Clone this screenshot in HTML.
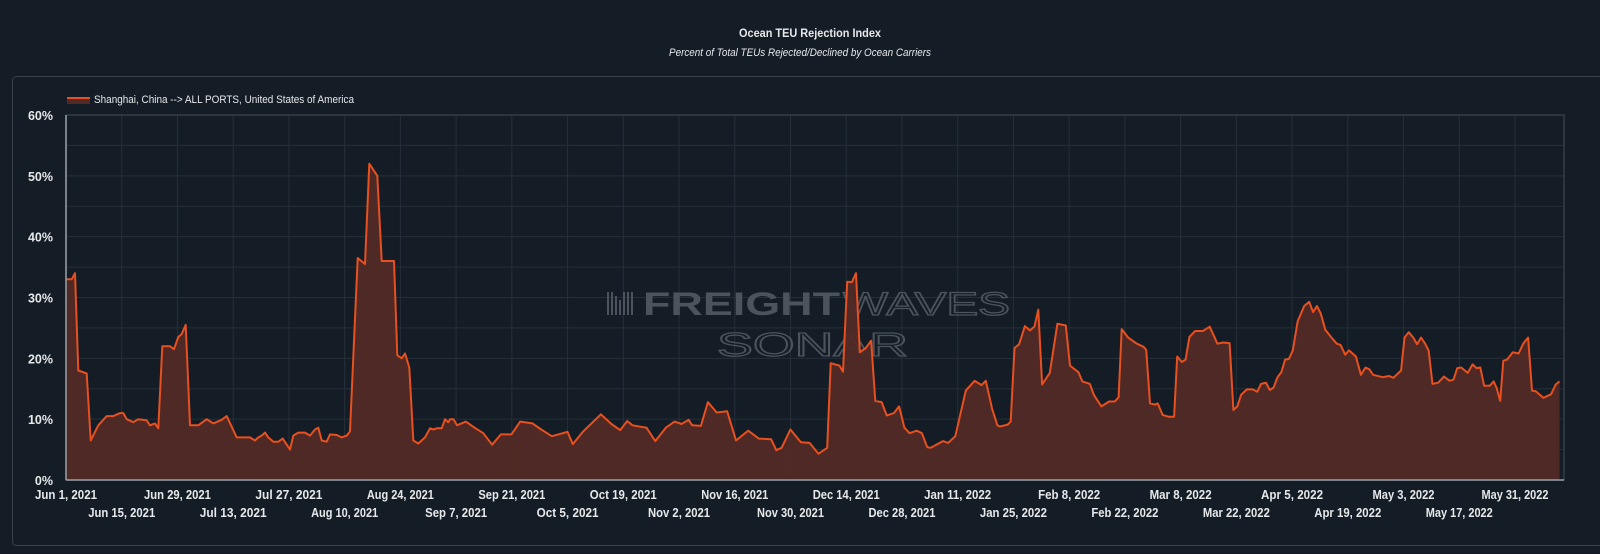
<!DOCTYPE html>
<html><head><meta charset="utf-8"><style>
html,body{margin:0;padding:0;background:#141d26;width:1600px;height:554px;overflow:hidden}
svg{display:block}
text{font-family:"Liberation Sans",sans-serif}
</style></head><body>
<svg id="s" width="1600" height="554" xmlns="http://www.w3.org/2000/svg">
<rect width="1600" height="554" fill="#141d26"/>
<rect x="12.5" y="76.5" width="1620" height="469" rx="4" fill="none" stroke="#3a424b" stroke-width="1"/>
<text x="810" y="37" fill="#e6e8ea" font-size="12" font-weight="bold" text-anchor="middle" textLength="142" lengthAdjust="spacingAndGlyphs">Ocean TEU Rejection Index</text>
<text x="800" y="56" fill="#e6e8ea" font-size="11" font-style="italic" text-anchor="middle" textLength="262" lengthAdjust="spacingAndGlyphs">Percent of Total TEUs Rejected/Declined by Ocean Carriers</text>
<rect x="67" y="97" width="23" height="7" fill="#512a25"/>
<rect x="67" y="97" width="23" height="2" fill="#e8501f"/>
<text x="94" y="103" fill="#e6e8ea" font-size="11" textLength="260" lengthAdjust="spacingAndGlyphs">Shanghai, China --&gt; ALL PORTS, United States of America</text>
<g id="grid"></g>
<g id="wm" fill="#4b535c">
<g fill="#4b535c"><rect x="607" y="292" width="2" height="23"/><rect x="611" y="292" width="2" height="23"/><rect x="615" y="296" width="2" height="19"/><rect x="619" y="300" width="2" height="15"/><rect x="623" y="292" width="2" height="23"/><rect x="627" y="292" width="2" height="23"/><rect x="631" y="292" width="2" height="23"/></g>
<text x="643" y="315" font-size="32" font-weight="bold" textLength="197" lengthAdjust="spacingAndGlyphs">FREIGHT</text>
<text x="843" y="315" font-size="32" fill="none" stroke="#4b535c" stroke-width="1.3" textLength="167" lengthAdjust="spacingAndGlyphs">WAVES</text>
<text x="717" y="356" font-size="33" fill="none" stroke="#4b535c" stroke-width="1.3" textLength="191" lengthAdjust="spacingAndGlyphs">SONAR</text>
</g>
<g id="data"></g>
<g id="labels"></g>
</svg>
<script>
var NS="http://www.w3.org/2000/svg";
function el(t,a,p,txt){var e=document.createElementNS(NS,t);for(var k in a)e.setAttribute(k,a[k]);if(txt!==undefined)e.textContent=txt;document.getElementById(p).appendChild(e);return e;}
var X0=66,X1=1564,Y0=480,Y1=115,sp=55.73;
function Y(v){return Y0-v*(Y0-Y1)/60;}
// horizontal grid
for(var v=5;v<60;v+=5)el("line",{x1:X0,x2:X1,y1:Y(v),y2:Y(v),stroke:"#262f39","stroke-width":1},"grid");
var labs=["Jun 1, 2021","Jun 15, 2021","Jun 29, 2021","Jul 13, 2021","Jul 27, 2021","Aug 10, 2021","Aug 24, 2021","Sep 7, 2021","Sep 21, 2021","Oct 5, 2021","Oct 19, 2021","Nov 2, 2021","Nov 16, 2021","Nov 30, 2021","Dec 14, 2021","Dec 28, 2021","Jan 11, 2022","Jan 25, 2022","Feb 8, 2022","Feb 22, 2022","Mar 8, 2022","Mar 22, 2022","Apr 5, 2022","Apr 19, 2022","May 3, 2022","May 17, 2022","May 31, 2022"];
for(var i=0;i<labs.length;i++){var x=X0+i*sp;if(i>0)el("line",{x1:x,x2:x,y1:Y1,y2:Y0,stroke:"#262f39","stroke-width":1},"grid");
el("text",{x:x,y:(i%2==0)?499:517,fill:"#e6e8ea","font-size":"12.5","font-weight":"bold","text-anchor":"middle",textLength:(labs[i].length*5.6).toFixed(0),lengthAdjust:"spacingAndGlyphs"},"labels",labs[i]);}
for(var v=0;v<=60;v+=10)el("text",{x:53,y:Y(v)+5,fill:"#e6e8ea","font-size":"12.5","font-weight":"bold","text-anchor":"end"},"labels",v+"%");
el("rect",{x:X0,y:Y1,width:X1-X0,height:Y0-Y1,fill:"none",stroke:"#3c444d","stroke-width":1.2},"grid");
var z1=[200,33,215,33,225,34,235,18,260,17.5,272,6.5,295,9,320,10.5,340,10.5,360,11,370,11,380,10,400,9.5,415,10,440,9.8,450,9,465,9.3,475,8.5,487,22,510,22,522,21.5,535,23.5,545,24,557,25.5,570,9,595,9,620,10,640,9.3,665,9.9,680,10.5,710,7,750,7,765,6.5,775,7,785,7.3,795,7.8,805,7,820,6.3,835,6.3,848,6.8,870,5,880,7.3,895,7.8,915,7.8,930,7.3,945,8.3,955,8.6,965,6.5,980,6.3,990,7.5,1010,7.4,1025,7,1040,7.3,1050,8,1073,36.5,1095,35.5,1108,52,1120,51,1132,50,1145,36,1182,36,1192,20.5,1205,20,1215,20.8,1228,18.5,1240,6.5,1255,6,1275,7,1290,8.5,1300,8.3,1310,8.5,1325,8.5,1335,10,1345,9.5];
var z2=[0,10,10,10,20,9,45,9.6,70,8.6,95,7.7,120,5.8,145,7.5,175,7.5,200,9.6,235,9.3,260,8.3,290,7.2,315,7.6,335,7.9,350,5.9,380,8,430,10.8,460,9.2,485,8.2,505,9.7,520,9,560,8.6,585,6.4,615,8.6,640,9.6,660,9.2,680,9.9,690,9,715,8.9,735,12.8,760,11.1,790,11.3,815,6.5,850,8.1,880,6.8,915,6.7,930,4.9,945,5.3,970,8.3,1000,6.2,1025,6.1,1050,4.3,1075,5.3,1085,19.2,1110,18.8,1120,17.8,1132,32.6,1145,32.5,1157,34,1168,21,1185,21.7,1200,22.9,1212,13,1230,12.8,1245,10.6,1265,11,1280,12.1,1295,8.6,1310,7.7,1330,8.1,1345,7.7,1360,5.4,1370,5.3,1405,6.4,1420,6.1,1440,7.2,1470,14.7,1495,16.3,1515,15.6,1527,16.3,1545,11.7,1560,9];
var z3=[0,8.8,20,9.1,28,9.6,38,21.7,50,22.3,65,25.3,78,24.6,90,25.2,100,28,110,15.7,130,17.6,150,25.7,172,25.4,183,18.8,205,17.7,215,16.2,235,15.8,245,14,265,12.1,285,12.9,300,12.9,310,13.6,318,24.8,335,23.4,355,22.5,375,21.9,382,21.4,392,12.6,405,12.4,412,12.6,425,10.7,440,10.4,455,10.4,463,20.3,475,19.4,485,19.8,495,23.5,510,24.5,530,24.5,548,25.2,568,22.4,583,22.6,600,22.5,610,11.5,620,12.1,630,14,645,14.9,660,14.9,672,14.5,682,15.8,695,16,705,14.8,715,15.2,725,16.9,735,17.7,745,19.8,755,19.9,765,21.3,778,26.1,795,28.6,808,29.3,818,27.6,828,28.6,838,27.4,850,24.7,865,23.5,880,22.4,890,22.2,902,20.6,912,21.3,930,20.3,943,17.3,955,18.5,965,18.2,975,17.3,1000,16.9,1017,17.1,1028,16.8,1048,18,1057,23.4,1068,24.3,1080,23.4,1090,22.3,1100,23.4,1110,22.5,1120,21.3,1130,15.8,1145,16,1160,17,1175,16.3,1185,16.5,1195,18.4,1205,18.5,1222,17.6,1235,19,1245,18.4,1255,18.5,1265,15.5,1280,15.5,1290,16.2,1298,15.1,1307,13,1315,19.6,1325,19.8,1340,21,1355,20.8,1368,22.5,1380,23.4,1390,14.7,1400,14.6,1420,13.5,1440,14.1,1452,15.7,1462,16.2];
var pts=[];
for(var i=0;i<z1.length;i+=2)pts.push([z1[i]/3,z1[i+1]]);
for(var i=0;i<z2.length;i+=2)pts.push([450+z2[i]/2.85,z2[i+1]]);
for(var i=0;i<z3.length;i+=2)pts.push([1000+z3[i]/2.613,z3[i+1]]);
pts[0][0]=X0;
var d="";for(var i=0;i<pts.length;i++)d+=(i?"L":"M")+pts[i][0].toFixed(1)+","+Y(pts[i][1]).toFixed(1);
var last=pts[pts.length-1][0].toFixed(1);
el("path",{d:d+"L"+last+","+Y0+"L"+X0+","+Y0+"Z",fill:"#512a25","fill-opacity":"0.95"},"data");
el("path",{d:d,fill:"none",stroke:"#e8501f","stroke-width":2,"stroke-linejoin":"round"},"data");
el("line",{x1:X0,x2:X0,y1:Y1,y2:Y0,stroke:"#9aa0a6","stroke-width":1.5},"data");
el("line",{x1:X0,x2:X1,y1:Y0,y2:Y0,stroke:"#9aa0a6","stroke-width":1.5},"data");
</script>
</body></html>
